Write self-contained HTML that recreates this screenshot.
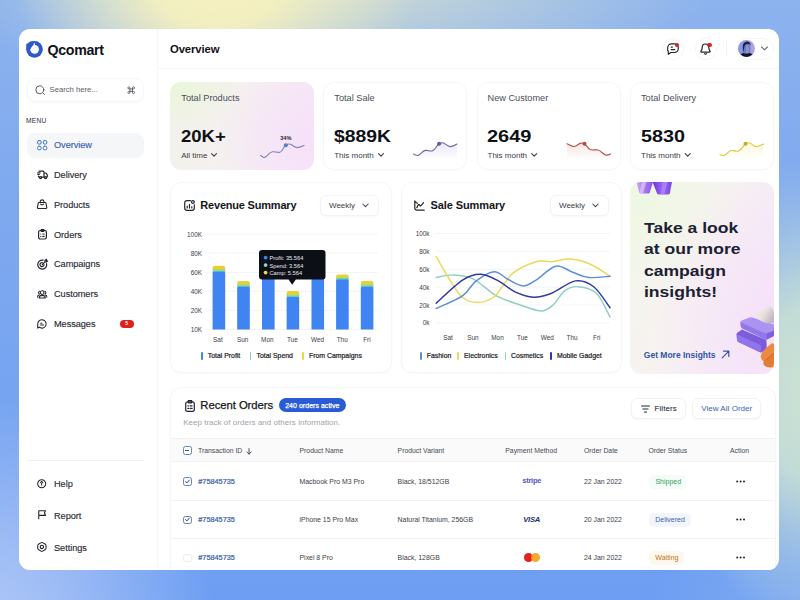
<!DOCTYPE html>
<html>
<head>
<meta charset="utf-8">
<title>Qcomart Overview</title>
<style>
*{box-sizing:border-box;margin:0;padding:0}
html,body{width:800px;height:600px;overflow:hidden}
body{font-family:"Liberation Sans",sans-serif;color:#14161c;position:relative;
background:
 radial-gradient(ellipse 200px 130px at 215px -12px, rgba(247,242,190,1) 0%, rgba(246,241,190,.92) 30%, rgba(242,239,194,.5) 62%, rgba(240,238,196,0) 100%),
 radial-gradient(ellipse 380px 120px at 330px -15px, rgba(232,235,200,.75) 0%, rgba(225,232,205,.4) 50%, rgba(220,230,210,0) 100%),
 radial-gradient(ellipse 160px 235px at 818px 392px, rgba(206,227,208,1) 0%, rgba(202,225,212,.9) 38%, rgba(196,221,218,.35) 75%, rgba(196,221,218,0) 100%),
 radial-gradient(ellipse 150px 70px at 800px 600px, rgba(140,180,238,.55) 0%, rgba(140,180,238,0) 100%),
 radial-gradient(ellipse 230px 230px at -15px 625px, rgba(176,200,247,1) 0%, rgba(174,198,246,.7) 40%, rgba(172,197,246,0) 100%),
 linear-gradient(180deg,#8db3ee 0%,#80aaef 30%,#6d9ef3 100%);
}
.abs{position:absolute}
#app{position:absolute;left:19px;top:29px;width:760px;height:541px;background:#fff;border-radius:11px;overflow:hidden}
/* all children of #app positioned relative to page via negative offset wrapper */
#pg{position:absolute;left:-19px;top:-29px;width:800px;height:600px}
.vline{position:absolute;left:157px;top:29px;width:1px;height:541px;background:#f6f6f8}
.hline{position:absolute;left:157px;top:68px;width:622px;height:1px;background:#f5f5f7}
.t{position:absolute;white-space:nowrap;line-height:1}

.ic{position:absolute;overflow:visible}
.ic *{fill:none;stroke:#23262d;stroke-width:1.2;stroke-linecap:round;stroke-linejoin:round}
.nav{position:absolute;left:54px;font-size:9.2px;color:#2a2d34;-webkit-text-stroke:.15px currentColor;white-space:nowrap;line-height:12px;letter-spacing:-.05px}
.card{position:absolute;background:#fff;border:1px solid #f6f6f8;border-radius:11px;box-shadow:0 1px 3px rgba(20,20,40,.025)}

.st{position:absolute;top:82px;width:144px;height:87.5px;border-radius:11px;background:#fff;border:1px solid #f6f6f8;box-shadow:0 1px 3px rgba(20,20,40,.02)}
.stt{position:absolute;top:92.5px;font-size:9.2px;color:#4a4f57;white-space:nowrap;line-height:10px}
.stn{position:absolute;top:128.4px;font-size:17px;font-weight:700;color:#0f1116;white-space:nowrap;line-height:17px;transform-origin:0 50%}
.sts{position:absolute;top:150.5px;font-size:8px;color:#3a3e46;white-space:nowrap;line-height:9px}
.sp{position:absolute;left:0;top:0;overflow:visible}

.ct{position:absolute;font-weight:700;color:#14161c;white-space:nowrap;line-height:13px;font-size:11px}
.dd{position:absolute;top:195px;width:58.6px;height:21px;border:1px solid #f3f3f5;border-radius:6px;background:#fff;box-shadow:0 1px 2px rgba(20,20,40,.03)}
.ax{position:absolute;font-size:6.4px;color:#3a3e46;white-space:nowrap;line-height:7px}
.axr{text-align:right;width:30px}
.axc{text-align:center;width:30px}
.lg{position:absolute;top:351.6px;font-size:6.9px;color:#16181d;white-space:nowrap;line-height:8px;-webkit-text-stroke:.2px #16181d}
.lb{position:absolute;top:351.5px;width:1.8px;height:8px;border-radius:1px}

.th{position:absolute;top:446.6px;font-size:6.85px;color:#454952;white-space:nowrap;line-height:8px}
.td{position:absolute;font-size:6.9px;color:#3a3e46;white-space:nowrap;line-height:8px}
.tid{position:absolute;left:198.3px;font-size:7.3px;font-weight:400;-webkit-text-stroke:.22px #3b62a6;color:#3b62a6;white-space:nowrap;line-height:8px}
.bdg{position:absolute;height:14px;border-radius:5px;font-size:7px;line-height:14px;text-align:center;white-space:nowrap}
.cb{position:absolute;left:183px;width:8.6px;height:8.6px;border-radius:2.4px;border:1px solid #6482bc;background:#fff}
.dots{position:absolute;left:736.2px;width:9px;height:2px}
.dots i{position:absolute;top:0;width:1.9px;height:1.9px;border-radius:50%;background:#23262d}
</style>
</head>
<body>
<div id="app"><div id="pg">
<div class="vline"></div>
<div class="hline"></div>


<!-- logo -->
<svg class="abs" style="left:26px;top:41px;overflow:visible" width="17" height="17" viewBox="0 0 17 17">
 <circle cx="8.5" cy="8.3" r="8.35" fill="#2c5bc9"/>
 <path d="M0.1 3.4 L4.2 0.5 L8 0.2 L0.6 8.2 Z" fill="#2c5bc9"/>
 <circle cx="8.6" cy="8.3" r="4.35" fill="#fff"/>
 <path d="M3.4 9.2 L3.4 2.4 L8.2 2.4 Z" fill="#2c5bc9"/>
 <path d="M8.2 1.3 L9.3 4.4 L7.4 4.4 Z" fill="#fff"/>
</svg>
<div class="t" style="left:47.5px;top:42.5px;font-size:14.2px;font-weight:700;letter-spacing:-.3px;color:#111318;line-height:14px">Qcomart</div>
<!-- search -->
<div class="abs" style="left:27px;top:78px;width:117px;height:23.5px;border:1px solid #f6f6f8;border-radius:8px;box-shadow:0 1px 2px rgba(20,20,40,.025)"></div>
<svg class="ic" style="left:35px;top:85px" width="11" height="11" viewBox="0 0 11 11"><circle cx="4.8" cy="4.8" r="4" style="stroke:#555a62;stroke-width:1"/><path d="M7.9 7.9 L9.4 9.4" style="stroke:#555a62;stroke-width:1"/></svg>
<div class="t" style="left:49.5px;top:86px;font-size:7.7px;color:#5a5e66;line-height:8px">Search here...</div>
<svg class="ic" style="left:127.1px;top:85.9px" width="8.4" height="8.4" viewBox="0 0 10 10"><path d="M3.5 3.5 V2.25 A1.25 1.25 0 1 0 2.25 3.5 H7.75 A1.25 1.25 0 1 0 6.5 2.25 V7.75 A1.25 1.25 0 1 0 7.75 6.5 H2.25 A1.25 1.25 0 1 0 3.5 7.75 Z" style="stroke:#555a62;stroke-width:1.05"/></svg>
<div class="t" style="left:26px;top:117px;font-size:6.6px;color:#2a2d33;letter-spacing:.25px;line-height:7px">MENU</div>
<!-- active item -->
<div class="abs" style="left:27px;top:132.5px;width:117px;height:25px;background:#f5f6f7;border-radius:8px"></div>
<svg class="ic" style="left:36.8px;top:139.8px" width="10.4" height="10.4" viewBox="0 0 10.4 10.4"><g><rect x=".6" y=".6" width="3.5" height="3.5" rx="1.1" style="stroke:#4271c2;stroke-width:1"/><rect x="6.3" y=".6" width="3.5" height="3.5" rx="1.1" style="stroke:#4271c2;stroke-width:1"/><rect x=".6" y="6.3" width="3.5" height="3.5" rx="1.1" style="stroke:#4271c2;stroke-width:1"/><rect x="6.3" y="6.3" width="3.5" height="3.5" rx="1.1" style="stroke:#4271c2;stroke-width:1"/></g></svg>
<div class="nav" style="top:139px;color:#3862b4">Overview</div>
<!-- delivery -->
<svg class="ic" style="left:36.6px;top:169.8px" width="11" height="10" viewBox="0 0 11 10"><path d="M2 1.2 H6 Q7 1.2 7 2.2 V7.2 M7 3 H8.4 Q9.2 3 9.6 3.7 L10.3 5 V6.4 Q10.3 7.2 9.6 7.2 M2.5 7.2 H2.2 Q1.5 7.2 1.5 6.4 V6 M4.7 7.2 H7.3 M.7 2.9 H3.1 M.7 4.5 H2.3"/><circle cx="3.6" cy="7.6" r="1.05"/><circle cx="8.5" cy="7.6" r="1.05"/></svg>
<div class="nav" style="top:168.7px">Delivery</div>
<!-- products -->
<svg class="ic" style="left:37px;top:199.3px" width="10.2" height="10.2" viewBox="0 0 11 11"><path d="M2.3 3.8 H8.7 Q9.5 3.8 9.7 4.6 L10.5 8.7 Q10.8 10.3 9.2 10.3 H1.8 Q.2 10.3 .5 8.7 L1.3 4.6 Q1.5 3.8 2.3 3.8 Z M3.5 3.7 V3 A2 2 0 0 1 7.5 3 V3.7 M3.9 5.5 Q5.5 7 7.1 5.5"/></svg>
<div class="nav" style="top:198.5px">Products</div>
<!-- orders -->
<svg class="ic" style="left:37.6px;top:229px" width="9" height="10.6" viewBox="0 0 9 10.6"><rect x=".6" y="1.5" width="7.8" height="8.5" rx="1.7"/><path d="M3.2 .7 H5.8 V2.3 H3.2 Z M2.8 5 h.01 M4.8 5 H6.2 M2.8 7.4 h.01 M4.8 7.4 H6.2"/></svg>
<div class="nav" style="top:228.7px">Orders</div>
<!-- campaigns -->
<svg class="ic" style="left:36.5px;top:258.5px" width="11" height="11" viewBox="0 0 11 11"><path d="M9.6 4.6 A4.5 4.5 0 1 1 6.2 1.2"/><path d="M7 5.6 A2 2 0 1 1 5.3 3.6"/><path d="M5.4 5.5 L8 2.9 M8 2.9 V1.2 L9.6 .4 V2 H10.6 L9.6 2.9 Z"/></svg>
<div class="nav" style="top:257.9px">Campaigns</div>
<!-- customers -->
<svg class="ic" style="left:36.8px;top:289.5px" width="10.4" height="8.7" viewBox="0 0 12 10"><circle cx="6" cy="3" r="2.1"/><path d="M2.4 9.3 Q2.4 6.2 6 6.2 Q9.6 6.2 9.6 9.3 Z"/><path d="M3 1.4 A1.7 1.7 0 0 0 2.8 4.6 M.6 8.2 Q.5 6.2 2.4 5.8 M9 1.4 A1.7 1.7 0 0 1 9.2 4.6 M11.4 8.2 Q11.5 6.2 9.6 5.8"/></svg>
<div class="nav" style="top:287.7px">Customers</div>
<!-- messages -->
<svg class="ic" style="left:36.8px;top:318.8px" width="10" height="10" viewBox="0 0 11 11"><path d="M5.6 .8 A4.6 4.6 0 1 1 2.6 9 L.8 10 V5.4 A4.7 4.7 0 0 1 5.6 .8 Z M4 4.6 H5.4 M4 6.6 H7.2"/></svg>
<div class="nav" style="top:317.5px">Messages</div>
<div class="abs" style="left:120.4px;top:319.5px;width:13.2px;height:8.4px;border-radius:4.2px;background:#dc221e"></div>
<div class="t" style="left:125.2px;top:321.3px;font-size:5px;font-weight:700;color:#fff;line-height:5px">5</div>
<!-- divider -->
<div class="abs" style="left:27px;top:460px;width:117px;height:1px;background:#f0f1f3"></div>
<!-- help -->
<svg class="ic" style="left:37px;top:478.7px" width="9.4" height="9.4" viewBox="0 0 11 11"><circle cx="5.5" cy="5.5" r="4.7"/><path d="M5.5 8 V7.9 M5.5 6.3 V5 M4.2 4.2 L5.5 2.9 L6.8 4.2"/></svg>
<div class="nav" style="top:477.5px">Help</div>
<!-- report -->
<svg class="ic" style="left:37.6px;top:510.4px" width="8.3" height="9.2" viewBox="0 0 9 10"><path d="M.8 9.4 V.8 H8.2 L7 3.2 L8.2 5.8 H.8"/></svg>
<div class="nav" style="top:509.6px">Report</div>
<!-- settings -->
<svg class="ic" style="left:37px;top:541.9px" width="9.8" height="9.8" viewBox="0 0 11 11"><path d="M4.2 1 Q5.5 .3 6.8 1 L9 2.3 Q10.2 3 10.2 4.4 V6.6 Q10.2 8 9 8.7 L6.8 10 Q5.5 10.7 4.2 10 L2 8.7 Q.8 8 .8 6.6 V4.4 Q.8 3 2 2.3 Z"/><circle cx="5.5" cy="5.5" r="1.9"/></svg>
<div class="nav" style="top:541.5px">Settings</div>


<div class="t" style="left:170px;top:42.5px;font-size:11.3px;font-weight:700;color:#111318;line-height:12px;letter-spacing:-.1px">Overview</div>
<!-- chat btn -->
<div class="abs" style="left:662px;top:37.5px;width:22px;height:22px;border-radius:50%;border:1px solid #f5f5f7;background:#fff"></div>
<svg class="ic" style="left:667px;top:42.5px" width="12" height="12" viewBox="0 0 12 12"><path d="M4.6 .8 H7.4 A3.9 3.9 0 0 1 11.3 4.7 V5.6 A3.9 3.9 0 0 1 7.4 9.5 H3.8 L1.3 11.3 V8.6 A3.9 3.9 0 0 1 .7 5.6 V4.7 A3.9 3.9 0 0 1 4.6 .8 Z M4.2 4.1 H5.4 M4.2 6.6 H7.7"/></svg>
<div class="abs" style="left:674.7px;top:42.9px;width:4.4px;height:4.4px;border-radius:50%;background:#d4212a"></div>
<!-- bell btn -->
<div class="abs" style="left:694.5px;top:37.5px;width:22px;height:22px;border-radius:50%;border:1px solid #f5f5f7;background:#fff"></div>
<svg class="ic" style="left:700px;top:42.5px" width="11" height="12" viewBox="0 0 11 12"><path d="M5.5 1 C3.4 1 2.2 2.6 2.2 4.6 C2.2 6.6 1.4 7.6 .9 8.4 C.7 8.9 1 9.2 1.5 9.2 H9.5 C10 9.2 10.3 8.9 10.1 8.4 C9.6 7.6 8.8 6.6 8.8 4.6 C8.8 2.6 7.6 1 5.5 1 Z M4.4 10.6 Q5.5 11.6 6.6 10.6"/></svg>
<div class="abs" style="left:707.2px;top:42.6px;width:4.4px;height:4.4px;border-radius:50%;background:#d4212a"></div>
<div class="abs" style="left:726px;top:41px;width:1px;height:15px;background:#f1f1f3"></div>
<!-- profile -->
<div class="abs" style="left:735.5px;top:37.5px;width:38px;height:22px;border-radius:11px;border:1px solid #f5f5f7;background:#fff"></div>
<svg class="abs" style="left:737.7px;top:40px" width="17" height="17" viewBox="0 0 17 17"><defs><clipPath id="av"><circle cx="8.5" cy="8.5" r="8.5"/></clipPath><linearGradient id="avb" x1="0" y1="0" x2="1" y2="0"><stop offset="0" stop-color="#8496e4"/><stop offset=".5" stop-color="#8f9ce2"/><stop offset="1" stop-color="#b4a6e2"/></linearGradient></defs><g clip-path="url(#av)"><rect width="17" height="17" fill="url(#avb)"/><path d="M4.6 13 Q5 4 9 3.6 Q12.6 4 12.4 9 Q12.4 12 11.6 13.4 Z" fill="#6f7cc4"/><path d="M8.2 5 Q10.6 5 11 9 Q11 12 10.4 13 L8 13 Z" fill="#8d92d2"/><path d="M4.8 8.2 Q4.2 2.4 8.8 1.6 Q12.4 1.6 12.8 5.4 Q11.4 3.6 9 4 Q6.4 4.4 6.2 8 Q5.6 10 5.4 12 Q4.8 10 4.8 8.2Z" fill="#1c1e44"/><path d="M1.6 17 Q2.4 13.4 5.4 12.9 Q8.5 14.2 11.8 12.9 Q14.8 13.4 15.6 17Z" fill="#11132c"/></g></svg>
<svg class="ic" style="left:761px;top:46px" width="7" height="5" viewBox="0 0 7 5"><path d="M.6 1 L3.5 3.8 L6.4 1" style="stroke:#666a72;stroke-width:1.1"/></svg>


<div class="st" style="left:170px;border:none;box-shadow:none;background:
 radial-gradient(ellipse 75px 50px at 0% 0%, rgba(232,247,214,.95) 0%, rgba(234,246,218,.5) 50%, rgba(236,246,222,0) 100%),
 radial-gradient(ellipse 100px 80px at 100% 65%, rgba(246,224,250,1) 0%, rgba(246,226,250,0) 100%),
 linear-gradient(100deg,#f1f2ea 0%,#f5f0f0 50%,#f5e7f7 100%)"></div>
<div class="st" style="left:323.3px"></div>
<div class="st" style="left:476.6px"></div>
<div class="st" style="left:630px"></div>
<div class="stt" style="left:181.3px">Total Products</div>
<div class="stt" style="left:334.3px">Total Sale</div>
<div class="stt" style="left:487.5px">New Customer</div>
<div class="stt" style="left:641px">Total Delivery</div>
<div class="stn" style="left:180.6px;transform:scaleX(1.09)">20K+</div>
<div class="stn" style="left:334px;transform:scaleX(1.138)">$889K</div>
<div class="stn" style="left:487.3px;transform:scaleX(1.176)">2649</div>
<div class="stn" style="left:640.8px;transform:scaleX(1.163)">5830</div>
<div class="sts" style="left:181.2px">All time</div>
<div class="sts" style="left:334.2px">This month</div>
<div class="sts" style="left:487.5px">This month</div>
<div class="sts" style="left:641px">This month</div>
<svg class="sp" width="800" height="600" viewBox="0 0 800 600">
 <defs>
  <linearGradient id="g2" x1="0" y1="0" x2="0" y2="1"><stop offset="0" stop-color="#b9b2ee" stop-opacity=".3"/><stop offset="1" stop-color="#b9b2ee" stop-opacity="0"/></linearGradient>
  <linearGradient id="g3" x1="0" y1="0" x2="0" y2="1"><stop offset="0" stop-color="#f2a9a4" stop-opacity=".3"/><stop offset="1" stop-color="#f2a9a4" stop-opacity="0"/></linearGradient>
  <linearGradient id="g4" x1="0" y1="0" x2="0" y2="1"><stop offset="0" stop-color="#f3e48a" stop-opacity=".3"/><stop offset="1" stop-color="#f3e48a" stop-opacity="0"/></linearGradient>
 </defs>
 <g fill="none" stroke="#3a3e46" stroke-width="1.1" stroke-linecap="round" stroke-linejoin="round">
  <path d="M211.5 153.7 L214 156.2 L216.5 153.7"/>
  <path d="M378.5 153.7 L381 156.2 L383.5 153.7"/>
  <path d="M531.7 153.7 L534.2 156.2 L536.7 153.7"/>
  <path d="M685.2 153.7 L687.7 156.2 L690.2 153.7"/>
 </g>
 <!-- spark 1 -->
 <path d="M260.5 155.3 C262 156.3 263 157.8 264.5 157.4 C267.5 156.6 269 152.3 272.3 151.8 C275 151.4 277 152.9 280 152.2 C283 151.4 283.5 146.5 285.7 145.2 C287.5 144 289 143.6 290.5 144.3 C293 145.4 294.5 147.6 297.2 147.6 C300 147.6 302 146.4 304 145.4" fill="none" stroke="#7d86b6" stroke-width="1.1" stroke-linecap="round"/>
 <circle cx="285.8" cy="145.3" r="2" fill="#4b82cc"/>
 <!-- spark 2 -->
 <path d="M413.5 154 C415 154.8 416.5 155.9 418 155.4 C420.5 154.6 422.5 150.9 425.3 150.4 C428 150 429.5 151.6 432.3 150.9 C435.5 150 436.8 145 439 143.7 C440.5 142.8 442 142.4 443.5 143 C446 144 447.5 146.6 450.3 146.6 C453 146.6 455 145 457 144 L457 160 L413.5 160 Z" fill="url(#g2)" stroke="none"/>
 <path d="M413.5 154 C415 154.8 416.5 155.9 418 155.4 C420.5 154.6 422.5 150.9 425.3 150.4 C428 150 429.5 151.6 432.3 150.9 C435.5 150 436.8 145 439 143.7 C440.5 142.8 442 142.4 443.5 143 C446 144 447.5 146.6 450.3 146.6 C453 146.6 455 145 457 144" fill="none" stroke="#6c649f" stroke-width="1.1" stroke-linecap="round"/>
 <circle cx="439.1" cy="143.8" r="2" fill="#5d58a2"/>
 <!-- spark 3 -->
 <path d="M567 143.7 C569.5 144.5 571.5 146.8 574.3 146.5 C577 146.2 578.5 143.4 581 143.1 C582.5 142.9 583.5 143.3 584.6 144 C586.8 145.4 587.8 148.6 590.2 149.6 C592.8 150.6 595.5 149.4 598 150 C601.5 150.8 603 154.8 606 155.1 C607.8 155.3 609.2 154.6 610.5 153.9 L610.5 161 L567 161 Z" fill="url(#g3)"/>
 <path d="M567 143.7 C569.5 144.5 571.5 146.8 574.3 146.5 C577 146.2 578.5 143.4 581 143.1 C582.5 142.9 583.5 143.3 584.6 144 C586.8 145.4 587.8 148.6 590.2 149.6 C592.8 150.6 595.5 149.4 598 150 C601.5 150.8 603 154.8 606 155.1 C607.8 155.3 609.2 154.6 610.5 153.9" fill="none" stroke="#b05252" stroke-width="1.1" stroke-linecap="round"/>
 <circle cx="584.5" cy="143.8" r="2" fill="#b04848"/>
 <!-- spark 4 -->
 <path d="M720 154.4 C721.3 155 722.5 155.9 724 155.4 C726.8 154.5 728.5 151 731.3 150.5 C734 150.1 735.5 151.8 738.3 151.1 C741.8 150.2 743.3 145 745.5 143.7 C747 142.9 748.5 142.5 750 143.1 C752.3 144.1 753.5 146.6 756.3 146.6 C759 146.6 761.5 145 763.5 144 L763.5 160 L720 160 Z" fill="url(#g4)"/>
 <path d="M720 154.4 C721.3 155 722.5 155.9 724 155.4 C726.8 154.5 728.5 151 731.3 150.5 C734 150.1 735.5 151.8 738.3 151.1 C741.8 150.2 743.3 145 745.5 143.7 C747 142.9 748.5 142.5 750 143.1 C752.3 144.1 753.5 146.6 756.3 146.6 C759 146.6 761.5 145 763.5 144" fill="none" stroke="#d9ca3c" stroke-width="1.1" stroke-linecap="round"/>
 <circle cx="745.5" cy="143.7" r="2" fill="#c4ac24"/>
</svg>
<div class="t" style="left:280.2px;top:135.2px;font-size:5.6px;font-weight:700;color:#23262d;line-height:6px">34%</div>


<div class="card" style="left:170px;top:182px;width:221.5px;height:191px"></div>
<svg class="ic" style="left:184px;top:199.5px" width="11" height="11" viewBox="0 0 11 11"><path d="M6.4 .7 H3 Q.7 .7 .7 3 V8 Q.7 10.3 3 10.3 H8 Q10.3 10.3 10.3 8 V4.8 M3.2 8 V6.2 M5.5 8 V4.4 M7.8 8 V6.8"/><circle cx="8.9" cy="2.1" r="1.4"/></svg>
<div class="ct" style="left:200.3px;top:198.5px;letter-spacing:-.2px">Revenue Summary</div>
<div class="dd" style="left:320.2px"></div>
<div class="t" style="left:329px;top:201.3px;font-size:8px;color:#3a3e46;line-height:9px">Weekly</div>
<svg class="ic" style="left:361.5px;top:203px" width="7" height="5" viewBox="0 0 7 5"><path d="M.8 1 L3.5 3.7 L6.2 1" style="stroke-width:1.05;stroke:#3a3e46"/></svg>
<div class="ax axr" style="left:172px;top:230.5px">100K</div>
<div class="ax axr" style="left:172px;top:249.5px">80K</div>
<div class="ax axr" style="left:172px;top:268.9px">60K</div>
<div class="ax axr" style="left:172px;top:287.7px">40K</div>
<div class="ax axr" style="left:172px;top:306.9px">20K</div>
<div class="ax axr" style="left:172px;top:326.1px">10K</div>
<svg class="sp" width="800" height="600" viewBox="0 0 800 600"><path d="M205 234 H378" stroke="#f4f4f6" stroke-width="1"/><path d="M205 253 H378" stroke="#f4f4f6" stroke-width="1"/><path d="M205 272.4 H378" stroke="#f4f4f6" stroke-width="1"/><path d="M205 291.2 H378" stroke="#f4f4f6" stroke-width="1"/><path d="M205 310.4 H378" stroke="#f4f4f6" stroke-width="1"/><path d="M205 329.6 H378" stroke="#f4f4f6" stroke-width="1"/><defs><linearGradient id="yg" x1="0" y1="0" x2="0" y2="1"><stop offset="0" stop-color="#f0ca3c"/><stop offset=".45" stop-color="#e2d23a"/><stop offset="1" stop-color="#c2d836"/></linearGradient></defs><path d="M212.6 270.6 V268.0 Q212.6 265.8 214.8 265.8 H223.0 Q225.2 265.8 225.2 268.0 V270.6 Z" fill="url(#yg)"/><path d="M212.6 273.0 V270.3 H225.2 V273.0 Z" fill="#62cbc4"/><path d="M212.6 329.6 V273.4 Q212.6 271.8 214.2 271.8 H223.6 Q225.2 271.8 225.2 273.4 V329.6 Z" fill="#3f84f0"/><path d="M237.2 285.6 V283.2 Q237.2 281 239.4 281 H247.6 Q249.8 281 249.8 283.2 V285.6 Z" fill="url(#yg)"/><path d="M237.2 288.0 V285.3 H249.8 V288.0 Z" fill="#62cbc4"/><path d="M237.2 329.6 V288.4 Q237.2 286.8 238.8 286.8 H248.2 Q249.8 286.8 249.8 288.4 V329.6 Z" fill="#3f84f0"/><path d="M262 260.6 V257.2 Q262 255 264.2 255 H272.4 Q274.6 255 274.6 257.2 V260.6 Z" fill="url(#yg)"/><path d="M262 263.0 V260.3 H274.6 V263.0 Z" fill="#62cbc4"/><path d="M262 329.6 V263.4 Q262 261.8 263.6 261.8 H273.0 Q274.6 261.8 274.6 263.4 V329.6 Z" fill="#3f84f0"/><path d="M286.6 295.8 V293.2 Q286.6 291 288.8 291 H297.0 Q299.2 291 299.2 293.2 V295.8 Z" fill="url(#yg)"/><path d="M286.6 298.2 V295.5 H299.2 V298.2 Z" fill="#62cbc4"/><path d="M286.6 329.6 V298.6 Q286.6 297.0 288.2 297.0 H297.6 Q299.2 297.0 299.2 298.6 V329.6 Z" fill="#3f84f0"/><path d="M311.5 263.6 V260.2 Q311.5 258 313.7 258 H321.9 Q324.1 258 324.1 260.2 V263.6 Z" fill="url(#yg)"/><path d="M311.5 266.0 V263.3 H324.1 V266.0 Z" fill="#62cbc4"/><path d="M311.5 329.6 V266.4 Q311.5 264.8 313.1 264.8 H322.5 Q324.1 264.8 324.1 266.4 V329.6 Z" fill="#3f84f0"/><path d="M336.1 278.4 V276.7 Q336.1 274.5 338.3 274.5 H346.5 Q348.7 274.5 348.7 276.7 V278.4 Z" fill="url(#yg)"/><path d="M336.1 280.8 V278.1 H348.7 V280.8 Z" fill="#62cbc4"/><path d="M336.1 329.6 V281.2 Q336.1 279.6 337.7 279.6 H347.1 Q348.7 279.6 348.7 281.2 V329.6 Z" fill="#3f84f0"/><path d="M360.8 285.6 V283.2 Q360.8 281 363.0 281 H371.2 Q373.4 281 373.4 283.2 V285.6 Z" fill="url(#yg)"/><path d="M360.8 288.0 V285.3 H373.4 V288.0 Z" fill="#62cbc4"/><path d="M360.8 329.6 V288.4 Q360.8 286.8 362.4 286.8 H371.8 Q373.4 286.8 373.4 288.4 V329.6 Z" fill="#3f84f0"/>
 <path d="M262 250 H322.5 Q325.5 250 325.5 253 V276.6 Q325.5 279.6 322.5 279.6 H295.8 L292.2 284.8 L288.6 279.6 H262 Q259 279.6 259 276.6 V253 Q259 250 262 250 Z" fill="#0d0f17"/>
 <circle cx="265.6" cy="257.6" r="1.9" fill="#3f83f0"/><circle cx="265.6" cy="265.1" r="1.9" fill="#8fd6c6"/><circle cx="265.6" cy="272.6" r="1.9" fill="#f0d64a"/>
</svg>
<div class="t" style="left:269.5px;top:255px;font-size:5.7px;color:#e8e9ee;line-height:6px">Profit: 35.564</div>
<div class="t" style="left:269.5px;top:262.5px;font-size:5.7px;color:#e8e9ee;line-height:6px">Spend: 3.564</div>
<div class="t" style="left:269.5px;top:270px;font-size:5.7px;color:#e8e9ee;line-height:6px">Camp: 5.564</div>
<div class="ax axc" style="left:202.9px;top:336.3px">Sat</div>
<div class="ax axc" style="left:227.7px;top:336.3px">Sun</div>
<div class="ax axc" style="left:252.3px;top:336.3px">Mon</div>
<div class="ax axc" style="left:277.3px;top:336.3px">Tue</div>
<div class="ax axc" style="left:302.5px;top:336.3px">Wed</div>
<div class="ax axc" style="left:327.2px;top:336.3px">Thu</div>
<div class="ax axc" style="left:351.9px;top:336.3px">Fri</div>
<div class="lb" style="left:201px;background:#3f83f0"></div><div class="lg" style="left:207.7px">Total Profit</div>
<div class="lb" style="left:249.6px;background:#7fd0c0"></div><div class="lg" style="left:256.5px">Total Spend</div>
<div class="lb" style="left:302.4px;background:#e9d64a"></div><div class="lg" style="left:309px">From Campaigns</div>


<div class="card" style="left:401px;top:182px;width:220.5px;height:191px"></div>
<svg class="ic" style="left:414px;top:199.5px" width="11" height="11" viewBox="0 0 11 11"><path d="M.8 .8 V8 Q.8 10.2 3 10.2 H10.2 M2.8 7.6 L4.4 4.6 Q4.8 4 5.3 4.6 L6 5.6 Q6.5 6.2 7 5.6 L9.6 2.6 M2.4 2.8 L1.6 1.8 M3.4 3.2 L2.4 2.8"/></svg>
<div class="ct" style="left:430.5px;top:198.5px;letter-spacing:-.1px">Sale Summary</div>
<div class="dd" style="left:550.2px"></div>
<div class="t" style="left:559px;top:201.3px;font-size:8px;color:#3a3e46;line-height:9px">Weekly</div>
<svg class="ic" style="left:591.5px;top:203px" width="7" height="5" viewBox="0 0 7 5"><path d="M.8 1 L3.5 3.7 L6.2 1" style="stroke-width:1.05;stroke:#3a3e46"/></svg>
<div class="ax axr" style="left:399.5px;top:229.9px">100k</div><div class="ax axr" style="left:399.5px;top:247.8px">80k</div><div class="ax axr" style="left:399.5px;top:265.7px">60k</div><div class="ax axr" style="left:399.5px;top:283.6px">40k</div><div class="ax axr" style="left:399.5px;top:301.5px">20k</div><div class="ax axr" style="left:399.5px;top:319.4px">0k</div>
<svg class="sp" width="800" height="600" viewBox="0 0 800 600"><path d="M436 233.4 H610" stroke="#f4f4f6" stroke-width="1"/><path d="M436 251.3 H610" stroke="#f4f4f6" stroke-width="1"/><path d="M436 269.2 H610" stroke="#f4f4f6" stroke-width="1"/><path d="M436 287.1 H610" stroke="#f4f4f6" stroke-width="1"/><path d="M436 305 H610" stroke="#f4f4f6" stroke-width="1"/><path d="M436 322.9 H610" stroke="#f4f4f6" stroke-width="1"/><path d="M436.2 277.5 C439.1 277.1 447.2 274.7 453.3 274.9 C459.4 275.1 465.8 275.3 473.0 278.8 C480.2 282.3 488.7 291.5 496.6 295.9 C504.5 300.3 512.8 302.5 520.2 305.0 C527.6 307.5 535.7 311.0 541.2 311.0 C546.7 311.0 549.0 308.4 553.0 305.0 C557.0 301.6 560.7 293.7 564.9 290.6 C569.1 287.6 572.8 286.3 578.0 286.7 C583.2 287.1 591.1 288.2 596.4 293.2 C601.7 298.2 607.7 312.9 610.0 316.9" fill="none" stroke="#8fd0c2" stroke-width="1.45" stroke-linecap="round"/><path d="M436.2 256.5 C438.2 259.9 443.7 270.2 448.0 277.0 C452.3 283.8 456.9 292.8 462.0 297.0 C467.1 301.2 473.3 302.6 478.8 302.4 C484.3 302.2 489.4 300.8 495.0 296.0 C500.6 291.2 505.6 279.3 512.4 273.6 C519.2 267.9 529.5 263.7 536.0 261.7 C542.5 259.7 546.0 262.1 551.7 261.7 C557.4 261.2 563.6 258.6 570.0 259.0 C576.4 259.4 583.3 261.1 590.0 264.0 C596.7 266.9 606.7 274.2 610.0 276.2" fill="none" stroke="#ecd85a" stroke-width="1.45" stroke-linecap="round"/><path d="M436.2 308.5 C440.6 306.4 455.9 300.4 462.5 295.9 C469.1 291.4 470.4 285.4 475.6 281.4 C480.9 277.4 488.8 272.1 494.0 271.7 C499.2 271.3 502.3 276.4 507.1 278.8 C511.9 281.2 518.1 285.7 522.9 285.9 C527.7 286.1 530.5 283.4 536.0 280.1 C541.5 276.8 549.6 267.5 555.7 266.2 C561.8 264.9 567.2 270.3 572.7 272.2 C578.2 274.1 582.3 276.8 588.5 277.5 C594.7 278.2 606.4 276.4 610.0 276.2" fill="none" stroke="#5b8fd8" stroke-width="1.45" stroke-linecap="round"/><path d="M436.2 303.2 C440.6 299.4 455.1 284.9 462.5 280.1 C469.9 275.3 474.8 274.1 480.9 274.3 C487.0 274.5 493.5 278.5 499.2 281.4 C504.9 284.3 509.3 289.3 515.0 291.9 C520.7 294.5 527.3 297.0 533.4 297.2 C539.5 297.4 544.7 295.9 551.7 293.2 C558.7 290.5 568.4 282.0 575.4 280.9 C582.4 279.8 587.9 282.2 593.7 286.7 C599.5 291.2 607.3 304.2 610.0 307.7" fill="none" stroke="#2f3a9e" stroke-width="1.45" stroke-linecap="round"/></svg>
<div class="ax axc" style="left:433.0px;top:334.3px">Sat</div><div class="ax axc" style="left:457.9px;top:334.3px">Sun</div><div class="ax axc" style="left:482.5px;top:334.3px">Mon</div><div class="ax axc" style="left:507.4px;top:334.3px">Tue</div><div class="ax axc" style="left:532.3px;top:334.3px">Wed</div><div class="ax axc" style="left:557.0px;top:334.3px">Thu</div><div class="ax axc" style="left:581.8px;top:334.3px">Fri</div>
<div class="lb" style="left:420.3px;background:#5b8fd8"></div><div class="lg" style="left:426.8px">Fashion</div>
<div class="lb" style="left:457px;background:#ecd85a"></div><div class="lg" style="left:464px">Electronics</div>
<div class="lb" style="left:504.5px;background:#8fd0c2"></div><div class="lg" style="left:511px">Cosmetics</div>
<div class="lb" style="left:550.2px;background:#2f3a9e"></div><div class="lg" style="left:556.9px">Mobile Gadget</div>


<div class="abs" id="promo" style="left:630px;top:182px;width:144px;height:192px;border-radius:11px;overflow:hidden;background:
 radial-gradient(ellipse 110px 120px at 0% 0%, rgba(237,248,224,1) 0%, rgba(239,248,228,.55) 50%, rgba(240,248,230,0) 100%),
 radial-gradient(ellipse 120px 170px at 100% 72%, rgba(245,225,250,1) 0%, rgba(245,226,250,0) 100%),
 linear-gradient(115deg,#f3f6ea 0%,#f7f2f1 50%,#f6e8f8 100%)">
 <svg style="position:absolute;left:0;top:0" width="144" height="192" viewBox="0 0 144 192">
  <defs>
   <linearGradient id="pw1" x1="0" y1="0" x2="1" y2="0"><stop offset="0" stop-color="#cfa8f7"/><stop offset=".5" stop-color="#a578f0"/><stop offset="1" stop-color="#8a58ea"/></linearGradient>
   <linearGradient id="pw2" x1="0" y1="0" x2="1" y2="0"><stop offset="0" stop-color="#6a34dc"/><stop offset=".5" stop-color="#9a68f0"/><stop offset="1" stop-color="#7a44e4"/></linearGradient>
   <linearGradient id="sl1" x1="0" y1="0" x2="1" y2="1"><stop offset="0" stop-color="#a58cf0"/><stop offset="1" stop-color="#8e70e8"/></linearGradient>
   <linearGradient id="sl2" x1="0" y1="0" x2="0" y2="1"><stop offset="0" stop-color="#8466e2"/><stop offset="1" stop-color="#a184ee"/></linearGradient>
   <linearGradient id="cn" x1="0" y1="0" x2="1" y2=".6"><stop offset="0" stop-color="#f3eeea"/><stop offset=".55" stop-color="#e9e2e0"/><stop offset="1" stop-color="#c4b6c2"/></linearGradient>
  </defs>
  <!-- W shape -->
  <path d="M6.5 0 H23 L19.8 10.4 Q19.4 11.6 18 11.6 H11 Q9.6 11.6 9.1 10.4 Z" fill="url(#pw1)"/>
  <path d="M22.5 0 H42 L39.8 11.3 Q39.5 12.6 38 12.6 H29 Q27.6 12.6 27 11.3 Z" fill="url(#pw2)"/>
  <path d="M12 0 H16.5 L13 11.6 H11 Q9.8 11.6 9.4 10.6 Z" fill="#e2c8fb" opacity=".7"/>
  <path d="M33 0 H37.5 L34.5 12.6 H30.5 Z" fill="#b48cf6" opacity=".7"/>
  <!-- lower slab -->
  <path d="M106.6 152.6 Q106.4 151 108 150.2 L112 147.6 L136.4 158 L136.4 167.6 L130.6 170.4 L108.4 160 Q107 159.2 107 157.6 Z" fill="#7c5cdc"/>
  <path d="M106.6 152.2 L131.4 163.4 L130.6 170.4 L108.4 160 Q107 159.2 107 157.6 Z" fill="#9174ea"/>
  <path d="M131.4 163.4 L136.4 160.4 L136.4 167.6 L130.6 170.4 Z" fill="#7a5adc"/>
  <!-- upper slab -->
  <path d="M110.3 141 Q110.1 139.4 111.8 138.6 L119.6 135.5 Q121 135.1 122.4 135.6 L144 142.4 V149 L136.2 152 Z" fill="#ab93f2"/>
  <path d="M110.3 140.2 L136.2 151.6 L136.2 158 L112.2 146.4 Q110.8 145.6 110.6 144 Z" fill="#9276ea"/>
  <path d="M136.2 151.6 L144 148.4 V154 L136.2 158 Z" fill="#7f60de"/>
  <!-- cone -->
  <path d="M124.6 133.8 Q132 127.4 140.4 124.2 Q143 126.4 144 130 V141 Q138 142.6 132 139.6 Q127 137 124.6 133.8 Z" fill="url(#cn)"/>
  <!-- hand -->
  <path d="M130.8 175.6 Q130 172.2 133.6 168.6 Q137.6 164.4 141.4 161.6 Q144 160.2 144 163 V171 Q139.4 174.6 136.4 178.2 Q132.6 181 130.8 175.6 Z" fill="#ec8a40"/>
  <path d="M134 183.2 Q131.8 180.2 136 176.8 Q140 173.2 144 171 V185 Q137.4 186.4 134 183.2Z" fill="#e67c34"/>
  <path d="M136.4 178.2 Q139.4 174.6 144 171" stroke="#c9632a" stroke-width=".8" fill="none"/>
 </svg>
</div>
<div class="abs" style="left:643.6px;top:217px;font-size:15.4px;font-weight:700;line-height:21.3px;color:#1c2033;white-space:nowrap;transform:scaleX(1.14);transform-origin:0 0">Take a look<br>at our more<br>campaign<br>insights!</div>
<div class="t" style="left:643.8px;top:349.8px;font-size:8.5px;font-weight:700;color:#2f56a8;line-height:10px">Get More Insights</div>
<svg class="ic" style="left:721px;top:350px" width="9" height="9" viewBox="0 0 9 9"><path d="M1.2 7.8 L7.6 1.4 M2.6 1.2 H7.8 V6.4" style="stroke:#2f56a8;stroke-width:1.2"/></svg>


<div class="card" style="left:170px;top:387px;width:606px;height:200px;border-radius:11px"></div>
<svg class="ic" style="left:184.5px;top:399.5px" width="10" height="12" viewBox="0 0 10 12"><rect x=".7" y="1.8" width="8.6" height="9.5" rx="1.9"/><path d="M3.3 .7 H6.7 V2.8 H3.3 Z M2.9 5.8 H3.5 M5.1 5.8 H7.1 M2.9 8.4 H3.5 M5.1 8.4 H7.1"/></svg>
<div class="t" style="left:200.3px;top:399px;font-size:11.3px;color:#14161c;line-height:13px;-webkit-text-stroke:.25px #14161c;letter-spacing:-.05px">Recent Orders</div>
<div class="abs" style="left:278.5px;top:398.2px;width:67.5px;height:14.3px;border-radius:7.2px;background:#2a5bd7"></div>
<div class="t" style="left:285.2px;top:401.6px;font-size:7px;font-weight:400;-webkit-text-stroke:.25px #fff;color:#fff;line-height:7px;letter-spacing:.03px">240 orders active</div>
<div class="t" style="left:183.2px;top:417.7px;font-size:7.9px;color:#9ea2aa;line-height:9px;letter-spacing:.07px">Keep track of orders and others information.</div>
<div class="abs" style="left:631.3px;top:398px;width:54.7px;height:20.8px;border:1px solid #f2f2f4;border-radius:6px;background:#fff;box-shadow:0 1px 2px rgba(20,20,40,.03)"></div>
<svg class="ic" style="left:640.5px;top:404.5px" width="9" height="8" viewBox="0 0 9 8"><path d="M.6 1 H8.4 M2 4 H7 M3.4 7 H5.6"/></svg>
<div class="t" style="left:654.6px;top:404.2px;font-size:8px;color:#14161c;line-height:9px;letter-spacing:.05px">Filters</div>
<div class="abs" style="left:692.4px;top:398px;width:69px;height:20.8px;border:1px solid #f2f2f4;border-radius:6px;background:#fff;box-shadow:0 1px 2px rgba(20,20,40,.03)"></div>
<div class="t" style="left:701.2px;top:404.2px;font-size:8px;color:#3a62b0;line-height:9px;letter-spacing:.04px">View All Order</div>
<!-- table -->
<div class="abs" style="left:171px;top:438px;width:604px;height:24.4px;background:#fafafb;border-top:1px solid #f1f1f4;border-bottom:1px solid #f1f1f4"></div>
<div class="abs" style="left:171px;top:499.8px;width:604px;height:1px;background:#f1f1f4"></div>
<div class="abs" style="left:171px;top:538.2px;width:604px;height:1px;background:#f1f1f4"></div>
<div class="cb" style="top:446.4px"></div><div class="abs" style="left:185.3px;top:450.2px;width:4px;height:1px;background:#3a5596"></div>
<div class="th" style="left:198px">Transaction ID</div>
<svg class="ic" style="left:245.5px;top:447.5px" width="6" height="7" viewBox="0 0 6 7"><path d="M3 .6 V6 M.8 3.9 L3 6.1 L5.2 3.9" style="stroke-width:.9;stroke:#3a3e46"/></svg>
<div class="th" style="left:299.5px">Product Name</div>
<div class="th" style="left:397.6px">Product Variant</div>
<div class="th" style="left:505.3px">Payment Method</div>
<div class="th" style="left:584px">Order Date</div>
<div class="th" style="left:648.4px">Order Status</div>
<div class="th" style="left:730px">Action</div>
<div class="cb" style="top:477.1px"></div><svg class="ic" style="left:185px;top:479px" width="5" height="5" viewBox="0 0 5 5"><path d="M.6 2.6 L1.9 3.9 L4.4 1" style="stroke:#2c3f78;stroke-width:1"/></svg>
<div class="cb" style="top:515.5px"></div><svg class="ic" style="left:185px;top:517.4px" width="5" height="5" viewBox="0 0 5 5"><path d="M.6 2.6 L1.9 3.9 L4.4 1" style="stroke:#2c3f78;stroke-width:1"/></svg>
<div class="cb" style="top:553.6px;border-color:#ececf0"></div>
<div class="tid" style="top:477.7px">#75845735</div><div class="td" style="left:299.5px;top:477.7px">Macbook Pro M3 Pro</div><div class="td" style="left:397.6px;top:477.7px">Black, 18/512GB</div><div class="td" style="left:584px;top:477.7px">22 Jan 2022</div><svg class="abs" style="left:0;top:0;overflow:visible" width="1" height="1"><circle cx="737.2" cy="481.6" r="1" fill="#23262d"/><circle cx="740.6" cy="481.6" r="1" fill="#23262d"/><circle cx="744" cy="481.6" r="1" fill="#23262d"/></svg><div class="tid" style="top:516.1px">#75845735</div><div class="td" style="left:299.5px;top:516.1px">iPhone 15 Pro Max</div><div class="td" style="left:397.6px;top:516.1px">Natural Titanium, 256GB</div><div class="td" style="left:584px;top:516.1px">20 Jan 2022</div><svg class="abs" style="left:0;top:0;overflow:visible" width="1" height="1"><circle cx="737.2" cy="519.6" r="1" fill="#23262d"/><circle cx="740.6" cy="519.6" r="1" fill="#23262d"/><circle cx="744" cy="519.6" r="1" fill="#23262d"/></svg><div class="tid" style="top:554.2px">#75845735</div><div class="td" style="left:299.5px;top:554.2px">Pixel 8 Pro</div><div class="td" style="left:397.6px;top:554.2px">Black, 128GB</div><div class="td" style="left:584px;top:554.2px">24 Jan 2022</div><svg class="abs" style="left:0;top:0;overflow:visible" width="1" height="1"><circle cx="737.2" cy="557.6" r="1" fill="#23262d"/><circle cx="740.6" cy="557.6" r="1" fill="#23262d"/><circle cx="744" cy="557.6" r="1" fill="#23262d"/></svg>
<!-- payments -->
<div class="t" style="left:522.3px;top:475.6px;font-size:7.6px;font-weight:700;color:#5a55c9;line-height:10px;letter-spacing:-.3px">stripe</div>
<div class="t" style="left:523.2px;top:515.4px;font-size:7.6px;font-weight:700;font-style:italic;color:#1f2f75;line-height:9px;letter-spacing:-.2px">VISA</div>
<div class="abs" style="left:523.6px;top:553.2px;width:9px;height:9px;border-radius:50%;background:#e8201c"></div>
<div class="abs" style="left:530.6px;top:553.2px;width:9px;height:9px;border-radius:50%;background:#f4a21c;opacity:.92"></div>
<!-- statuses -->
<div class="bdg" style="left:649.3px;top:474.6px;width:38px;background:#f3fcf6;color:#3a9d5a">Shipped</div>
<div class="bdg" style="left:649.3px;top:512.6px;width:41.6px;background:#f2f5fc;color:#3a62b0">Delivered</div>
<div class="bdg" style="left:649.3px;top:550.8px;width:35.2px;background:#fef8ec;color:#b8741c">Waiting</div>


</div></div>
</body>
</html>
